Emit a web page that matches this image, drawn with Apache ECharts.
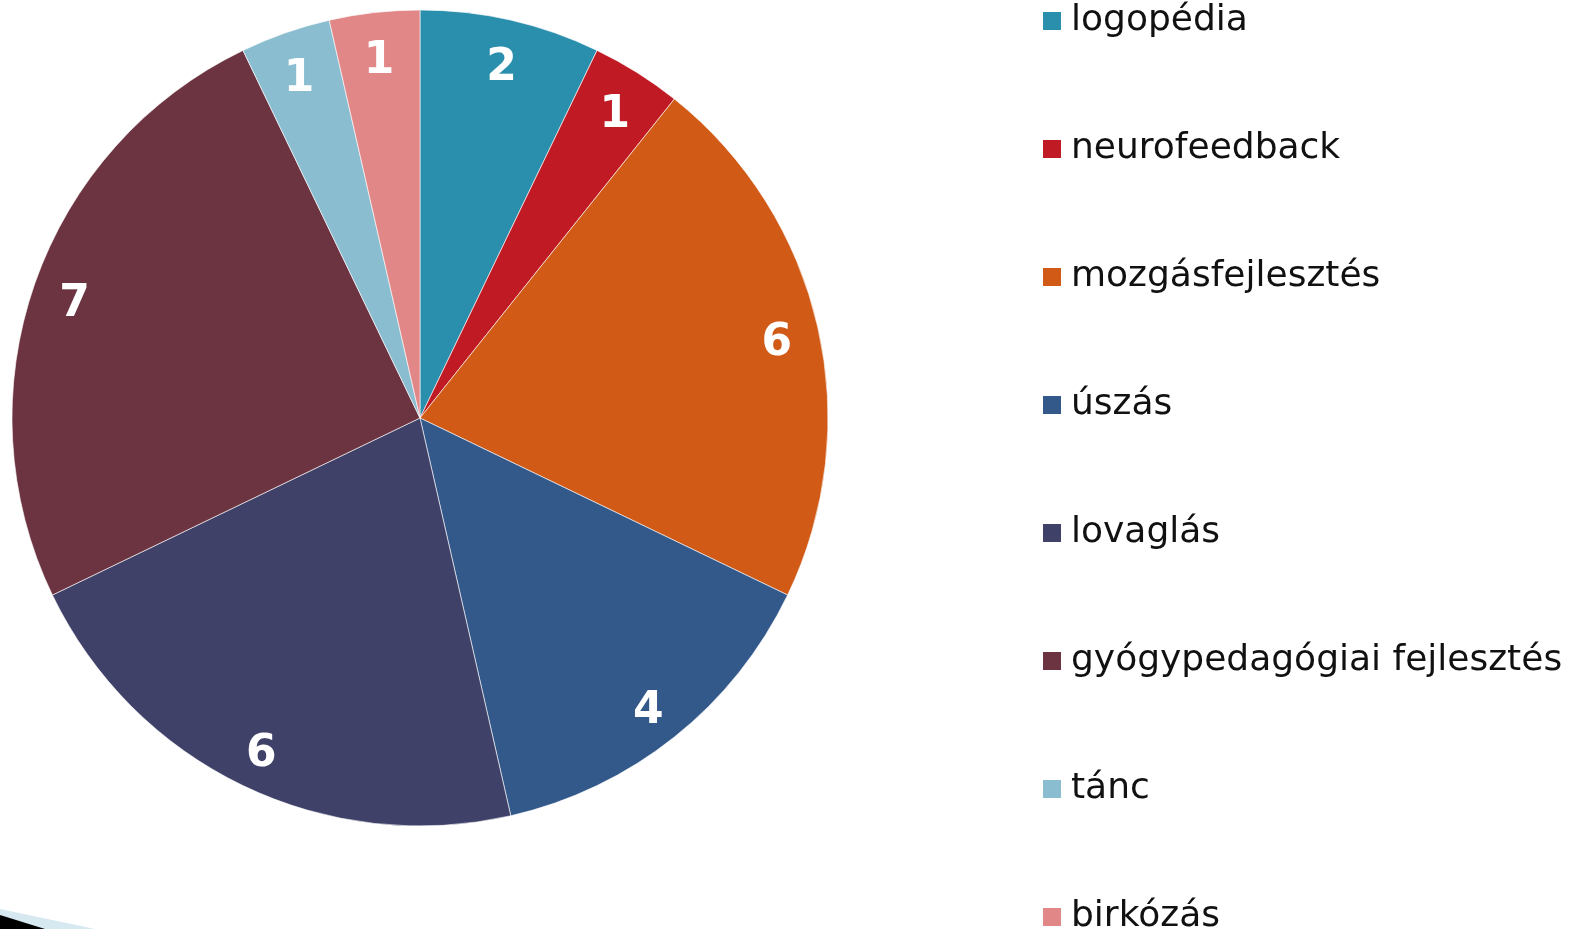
<!DOCTYPE html>
<html>
<head>
<meta charset="utf-8">
<script src="https://cdn.jsdelivr.net/npm/echarts@6/dist/echarts.min.js"></script>
<style>
  html, body { margin: 0; padding: 0; background: #fff; }
  #chart { width: 1577px; height: 929px; }
</style>
</head>
<body>
<div id="chart"></div>
<script>
const categories = ['logopédia', 'neurofeedback', 'mozgásfejlesztés', 'úszás', 'lovaglás', 'gyógypedagógiai fejlesztés', 'tánc', 'birkózás'];
const counts = [2, 1, 6, 4, 6, 7, 1, 1];
const colors = ['#2a8fac', '#c01b24', '#d05a16', '#33588a', '#3f4169', '#6c3440', '#8bbdd0', '#e28788'];

const pieData = categories.map((name, i) => ({
  name: name,
  value: counts[i],
  itemStyle: { color: colors[i] }
}));

// label-only ring so the numbers sit near the outer edge
const labelData = categories.map((name, i) => ({ name: name, value: counts[i] }));

const chart = echarts.init(document.getElementById('chart'));

const option = {
  animation: false,
  legend: {
    orient: 'vertical',
    left: 1036,
    top: -2,
    height: 1000,
    itemWidth: 20,
    itemHeight: 20,
    itemGap: 92,
    icon: 'rect',
    selectedMode: false,
    data: categories,
    textStyle: {
      fontFamily: 'DejaVu Sans',
      fontSize: 36,
      lineHeight: 36,
      color: '#111',
      padding: [0, 0, 0, 4]
    }
  },
  graphic: [
    {
      type: 'polygon',
      shape: { points: [[0, 909], [95, 929], [0, 929]] },
      style: { fill: '#d6e8f0' }
    },
    {
      type: 'polygon',
      shape: { points: [[0, 915], [45, 929], [0, 929]] },
      style: { fill: '#000' }
    }
  ],
  series: [
    {
      type: 'pie',
      center: [420, 418],
      radius: [0, 408],
      startAngle: 90,
      clockwise: true,
      label: { show: false },
      labelLine: { show: false },
      itemStyle: { borderColor: '#fff', borderWidth: 0.6 },
      emphasis: { disabled: true },
      data: pieData
    },
    {
      type: 'pie',
      center: [420, 418],
      radius: [318, 408],
      startAngle: 90,
      clockwise: true,
      silent: true,
      itemStyle: { color: 'rgba(0,0,0,0)' },
      labelLine: { show: false },
      label: {
        show: true,
        position: 'inside',
        formatter: '{c}',
        color: '#fff',
        fontFamily: 'DejaVu Sans',
        fontWeight: 'bold',
        fontSize: 44,
        offset: [0, 7]
      },
      emphasis: { disabled: true },
      data: labelData
    }
  ]
};

chart.setOption(option);
</script>
</body>
</html>
